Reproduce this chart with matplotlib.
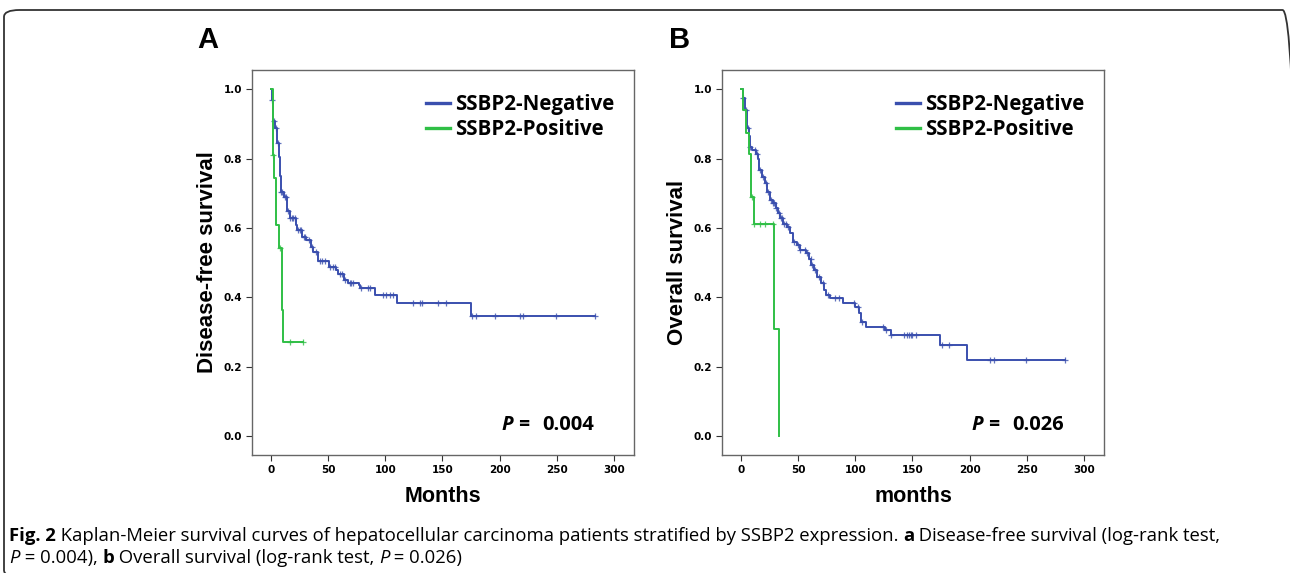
import numpy as np
import matplotlib
matplotlib.use('Agg')
import matplotlib.pyplot as plt
from matplotlib.patches import FancyBboxPatch

# Panel A: disease-free survival, step points (time, survival after drop)
dfs_neg_t = [0.5, 1.5, 2, 3.5, 5, 7, 8, 8.5, 11, 14, 16.5, 22, 23, 27, 31, 35, 37, 41,
             51, 57, 59, 64, 67, 77, 78, 91, 110, 175]
dfs_neg_s = [0.97, 0.93, 0.91, 0.89, 0.844, 0.806, 0.75, 0.705, 0.69, 0.65, 0.63, 0.61,
             0.594, 0.575, 0.565, 0.546, 0.53, 0.505, 0.488, 0.479, 0.466, 0.45, 0.44,
             0.435, 0.426, 0.407, 0.385, 0.346]
dfs_neg_end = 283
dfs_neg_cens = [1, 3, 4, 6, 9, 10, 12, 13, 15, 17, 18, 19, 21, 24, 25, 26, 29, 30, 33, 36,
                39, 43, 45, 47, 52, 54, 56, 60, 62, 65, 69, 70, 72, 79, 85, 87, 98, 101,
                104, 107, 124, 130, 132, 146, 153, 176, 179, 196, 218, 220, 249, 283]

dfs_pos_t = [1.5, 2.6, 4.1, 7, 9.3, 10.5]
dfs_pos_s = [0.81, 0.745, 0.61, 0.543, 0.362, 0.27]
dfs_pos_end = 28
dfs_pos_cens = [1.5, 8, 16.6, 28]

# Panel B: overall survival
os_neg_t = [1.5, 3.5, 5.5, 6.7, 8, 10, 13, 14.5, 16, 18.5, 21, 23, 25, 28, 30.5, 32.5,
            34.5, 37, 40.5, 43, 45.6, 49, 51.5, 57, 59.6, 61.6, 63.7, 66.6, 70, 72.7,
            74.7, 77.6, 89, 100, 103, 105, 109.6, 126, 131, 174.4, 198]
os_neg_s = [0.974, 0.94, 0.89, 0.865, 0.835, 0.825, 0.815, 0.80, 0.767, 0.748, 0.729,
            0.705, 0.681, 0.671, 0.657, 0.642, 0.628, 0.613, 0.604, 0.585, 0.56, 0.551,
            0.538, 0.529, 0.51, 0.493, 0.479, 0.46, 0.44, 0.42, 0.407, 0.397, 0.383,
            0.371, 0.356, 0.33, 0.315, 0.306, 0.291, 0.2625, 0.219]
os_neg_end = 283
os_neg_cens = [2, 4, 6, 8, 12, 14, 17, 19, 22, 24, 26, 28, 29, 31, 33, 35, 36, 38, 39, 41,
               46, 50, 52, 56, 58, 61, 62, 65, 68, 72, 76, 82, 86, 99, 102, 106, 124, 127,
               131, 143, 145, 147, 149, 150, 153, 176, 182, 218, 221, 249, 283]

os_pos_t = [2, 4, 7, 8.5, 11, 28.8, 33.5]
os_pos_s = [0.94, 0.875, 0.8125, 0.69, 0.611, 0.308, 0.0]
os_pos_end = 33.5
os_pos_cens = [9.5, 11.4, 16.6, 20.7, 28]

x_ticks = [0, 50, 100, 150, 200, 250, 300]
y_ticks = [0.0, 0.2, 0.4, 0.6, 0.8, 1.0]

BLUE = '#3a4fae'
GREEN = '#2fbf45'

fig = plt.figure(figsize=(12.9, 5.73), dpi=100)
renderer = fig.canvas.get_renderer()


def km_curve(ax, times, surv, end, cens, color, label):
    x = [0] + list(times) + [end]
    y = [1.0] + list(surv) + [surv[-1]]
    ax.step(x, y, where='post', color=color, lw=1.4, label=label)
    idx = np.searchsorted(times, cens, side='right')
    s_all = np.array([1.0] + list(surv))
    ax.plot(cens, s_all[idx], ls='none', marker='+', ms=5, mew=0.9, color=color, alpha=0.8)


def panel(ax, neg, pos, ylabel, xlabel, pval):
    km_curve(ax, *neg, BLUE, 'SSBP2-Negative')
    km_curve(ax, *pos, GREEN, 'SSBP2-Positive')
    ax.set_xlim(-16.6, 317.5)
    ax.set_ylim(-0.055, 1.056)
    ax.set_xticks(x_ticks)
    ax.set_yticks(y_ticks)
    ax.set_yticklabels(['%.1f' % v for v in y_ticks])
    ax.tick_params(direction='out', length=4, width=0.8, color='#333333',
                   labelsize=7.5, pad=3, top=False, right=False)
    for lab in ax.get_xticklabels() + ax.get_yticklabels():
        lab.set_fontweight('bold')
        lab.set_family('DejaVu Sans')
    for sp in ax.spines.values():
        sp.set_color('#666666')
        sp.set_linewidth(1.0)
    ax.set_ylabel(ylabel, fontsize=16, fontweight='bold', family='Liberation Sans', labelpad=4)
    ax.set_xlabel(xlabel, fontsize=15.5, fontweight='bold', family='Liberation Sans', labelpad=8)
    leg = ax.legend(loc='upper right', frameon=False, handlelength=1.15, handletextpad=0.25,
                    labelspacing=0.2, borderaxespad=0, borderpad=0,
                    bbox_to_anchor=((614 - 252) / 382, 1 - (94 - 70) / 385),
                    prop={'family': 'Open Sans', 'weight': 'bold', 'size': 14.8})
    for h in leg.get_lines():
        h.set_linewidth(2.4)
    # p-value: bold italic P, bold number
    tv = ax.text((594 - 252) / 382, (455 - 425) / 385, pval, transform=ax.transAxes,
                 ha='right', va='center', fontsize=14.5, fontweight='bold', family='Open Sans')
    bb = tv.get_window_extent(renderer)
    ax.text(bb.x0 - 12, bb.y0 + bb.height / 2, 'P =', transform=None, ha='right',
            va='center', fontsize=14.5, fontweight='bold', style='italic', family='Open Sans')


axA = fig.add_axes([252 / 1290, 1 - 455 / 573, 382 / 1290, 385 / 573])
axB = fig.add_axes([722 / 1290, 1 - 455 / 573, 382 / 1290, 385 / 573])

panel(axA, (dfs_neg_t, dfs_neg_s, dfs_neg_end, dfs_neg_cens),
      (dfs_pos_t, dfs_pos_s, dfs_pos_end, dfs_pos_cens),
      'Disease-free survival', 'Months', '0.004')
panel(axB, (os_neg_t, os_neg_s, os_neg_end, os_neg_cens),
      (os_pos_t, os_pos_s, os_pos_end, os_pos_cens),
      'Overall survival', 'months', '0.026')

fig.text(208 / 1290, 1 - 40 / 573, 'A', fontsize=21, fontweight='bold',
         family='Liberation Sans', ha='center', va='center')
fig.text(680 / 1290, 1 - 40 / 573, 'B', fontsize=21, fontweight='bold',
         family='Liberation Sans', ha='center', va='center')

# rounded border (right and bottom run off the picture)
fig.patches.append(FancyBboxPatch((4 / 1290, -4 / 573), 1294 / 1290, 567 / 573,
                                  boxstyle='round,pad=0,rounding_size=0.012',
                                  transform=fig.transFigure, fill=False,
                                  edgecolor='#333333', lw=1.3))

# caption built piece by piece (bold / italic parts)
cap_font = ['Open Sans']
cap_size = 13.3


def caption_line(pieces, x0, y0):
    x = x0
    for txt, style in pieces:
        kw = dict(fontsize=cap_size, family=cap_font, va='baseline', ha='left')
        if style == 'b':
            kw['fontweight'] = 'bold'
        elif style == 'i':
            kw['style'] = 'italic'
        t = fig.text(x / 1290, 1 - y0 / 573, txt, **kw)
        x += t.get_window_extent(renderer).width


caption_line([('Fig. 2', 'b'),
              (' Kaplan-Meier survival curves of hepatocellular carcinoma patients stratified by '
               'SSBP2 expression. ', 'n'),
              ('a', 'b'), (' Disease-free survival (log-rank test,', 'n')], 9, 541)
caption_line([('P', 'i'), (' = 0.004), ', 'n'), ('b', 'b'),
              (' Overall survival (log-rank test, ', 'n'), ('P', 'i'), (' = 0.026)', 'n')], 9, 563)

fig.savefig('out.png', dpi=100)
